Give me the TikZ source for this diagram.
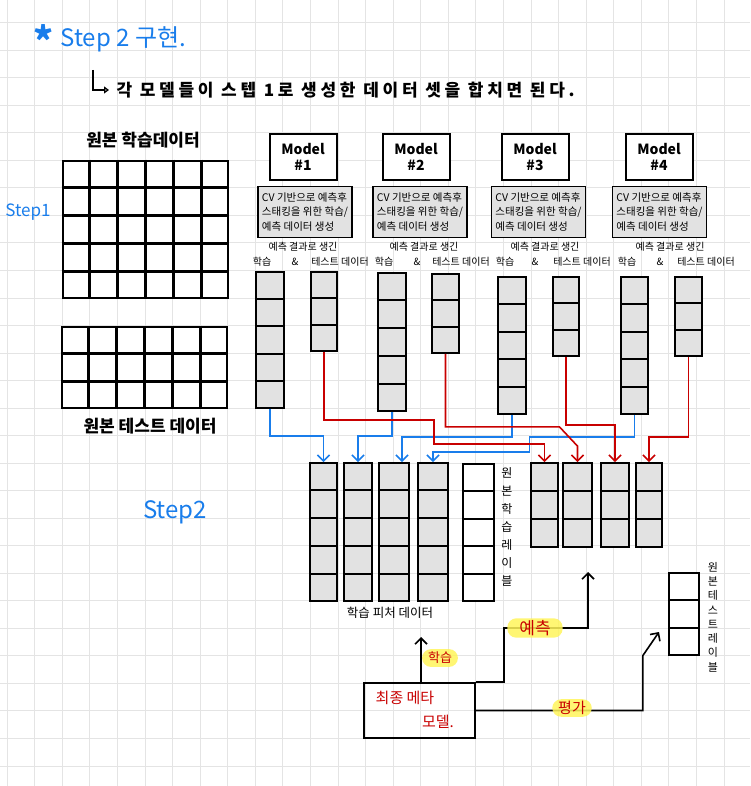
\documentclass[tikz,border=0pt]{standalone}
\usepackage{fontspec}
\setmainfont{Noto Sans CJK KR}
\newfontfamily\spaced{Noto Sans CJK KR}[LetterSpace=22]
\usetikzlibrary{arrows.meta,calc}

\definecolor{penblue}{RGB}{25,125,235}
\definecolor{penred}{RGB}{200,0,0}
\definecolor{paperline}{RGB}{228,228,228}
\definecolor{cellfill}{RGB}{226,226,226}
\definecolor{marker}{RGB}{255,244,90}

\tikzset{
  gridline/.style={draw=paperline, line width=1pt},
  cellline/.style={line width=1.8pt},
  gridcut/.style={line width=2.4pt},
  modelbox/.style={draw, line width=2pt, fill=white, minimum width=67pt, minimum height=46pt, inner sep=0pt, align=center, font=\fontsize{14}{16}\selectfont\bfseries},
  cvbox/.style={draw, line width=1.6pt, fill=cellfill, minimum width=94pt, minimum height=51pt, inner sep=2pt, align=left, font=\fontsize{10.5}{14.5}\selectfont},
  colbox/.style={draw, line width=1.8pt, fill=cellfill, inner sep=0pt},
  labelbox/.style={colbox, fill=white},
  datagrid/.style={draw, line width=2.6pt, fill=white, inner sep=0pt},
  hand/.style={font=\fontsize{10}{12}\selectfont},
  chevron/.style={-{Straight Barb[length=6pt,width=12pt]}, line width=1.6pt},
  bluepath/.style={chevron, draw=penblue},
  redpath/.style={chevron, draw=penred},
  blackpath/.style={chevron, draw=black},
  marked/.style={fill=marker, fill opacity=0.85, text opacity=1, rounded corners=9pt, text=penred, inner xsep=6pt, inner ysep=2pt},
}

% inner cell lines of a drawn box
\newcommand{\cellrows}[3][cellline]{%
  \pgfmathtruncatemacro{\cutn}{#3-1}
  \foreach \k in {1,...,\cutn}
    \draw[#1] ($(#2.north west)!{\k/#3}!(#2.south west)$) -- ($(#2.north east)!{\k/#3}!(#2.south east)$);
}
\newcommand{\cellcols}[3][cellline]{%
  \pgfmathtruncatemacro{\cutn}{#3-1}
  \foreach \k in {1,...,\cutn}
    \draw[#1] ($(#2.north west)!{\k/#3}!(#2.north east)$) -- ($(#2.south west)!{\k/#3}!(#2.south east)$);
}

\begin{document}
\begin{tikzpicture}[x=1pt,y=-1pt]
\useasboundingbox (0,0) rectangle (750,786);

% squared paper
\foreach \gx in {0,...,26} \draw[gridline] ({7.3+27.565*\gx},0) -- ++(0,786);
\foreach \gy in {0,...,27} \draw[gridline] (0,{22.7+27.53*\gy}) -- ++(750,0);

% heading
\node[penblue, anchor=west, font=\fontsize{24}{24}\selectfont] (title) at (30,40) {\raisebox{-9pt}{\fontsize{38}{38}\selectfont\textbf{*}}\hspace{7pt}Step 2 구현.};
\node[anchor=west, font=\fontsize{17}{17}\spaced\bfseries] (subtitle) at (113,90) {각 모델들이 스텝 1로 생성한 데이터 셋을 합치면 된다.};
\draw[line width=1.6pt, -{Triangle[open,length=5pt,width=7pt]}, shorten >=4pt] (93,70) |- (subtitle.west);

% step 1: original data
\node[penblue, font=\fontsize{17}{17}\selectfont] (step1) at (28,212) {Step1};
\node[font=\fontsize{17}{17}\selectfont\bfseries] (trtitle) at (143,140) {원본 학습데이터};
\node[datagrid, minimum width=165pt, minimum height=137pt] (trgrid) at (145.5,229.5) {};
\cellcols[gridcut]{trgrid}{6} \cellrows[gridcut]{trgrid}{5}
\node[datagrid, minimum width=165pt, minimum height=81pt] (tsgrid) at (144.5,367.5) {};
\cellcols[gridcut]{tsgrid}{6} \cellrows[gridcut]{tsgrid}{3}
\node[font=\fontsize{17}{17}\selectfont\bfseries] (tstitle) at (150,426) {원본 테스트 데이터};

% four base models
\foreach \i/\mx/\cx/\tx/\ax/\sx/\ty in {1/303/305/262/295/340/303, 2/416/420/384/417/461/424, 3/535/538.5/505/535/582/545, 4/659/659.5/627/660/706/670} {
  \node[modelbox] (model\i) at (\mx,157) {Model\\\#\i};
  \node[cvbox] (cv\i) at (\cx,212) {CV 기반으로 예측후\\스태킹을 위한 학습/\\예측 데이터 생성};
  \node[hand] (made\i) at (\ty,247) {예측 결과로 생긴};
  \node[hand] (trword\i) at (\tx,262) {학습};
  \node[hand] (andword\i) at (\ax,262) {\&};
  \node[hand] (tsword\i) at (\sx,262) {테스트 데이터};
}

% predictions of each model
\node[colbox, minimum width=28pt, minimum height=136pt] (tr1) at (270,340) {};
\node[colbox, minimum width=26pt, minimum height=79pt] (ts1) at (324,311.5) {};
\node[colbox, minimum width=28pt, minimum height=138pt] (tr2) at (392,342) {};
\node[colbox, minimum width=27pt, minimum height=79pt] (ts2) at (445.5,313.5) {};
\node[colbox, minimum width=28pt, minimum height=137pt] (tr3) at (512,345.5) {};
\node[colbox, minimum width=26pt, minimum height=79pt] (ts3) at (566,316.5) {};
\node[colbox, minimum width=27pt, minimum height=137pt] (tr4) at (634.5,345.5) {};
\node[colbox, minimum width=27pt, minimum height=79pt] (ts4) at (688.5,316.5) {};

% step 2: stacked data
\node[penblue, font=\fontsize{24}{24}\selectfont] (step2) at (175,512) {Step2};
\node[colbox, minimum width=27pt, minimum height=138pt] (f1) at (323.5,532) {};
\node[colbox, minimum width=28pt, minimum height=138pt] (f2) at (358,532) {};
\node[colbox, minimum width=30pt, minimum height=138pt] (f3) at (394,532) {};
\node[colbox, minimum width=30pt, minimum height=138pt] (f4) at (433,532) {};
\node[labelbox, minimum width=31pt, minimum height=137pt] (lb) at (478.5,532.5) {};
\node[colbox, minimum width=27pt, minimum height=84pt] (res1) at (544.5,505) {};
\node[colbox, minimum width=29pt, minimum height=84pt] (res2) at (577.5,505) {};
\node[colbox, minimum width=28pt, minimum height=84pt] (res3) at (615,505) {};
\node[colbox, minimum width=26pt, minimum height=84pt] (res4) at (649,505) {};
\node[labelbox, minimum width=30pt, minimum height=82pt] (tl) at (684,614) {};

\foreach \c/\n in {tr1/5, ts1/3, tr2/5, ts2/3, tr3/5, ts3/3, tr4/5, ts4/3, f1/5, f2/5, f3/5, f4/5, lb/5, res1/3, res2/3, res3/3, res4/3, tl/3} {
  \cellrows{\c}{\n}
}

\node[font=\fontsize{12.5}{12.5}\selectfont] (featname) at (390,613) {학습 피처 데이터};
\node[align=center, font=\fontsize{12}{18}\selectfont] (lbname) at (507,527) {원\\본\\학\\습\\레\\이\\블};
\node[align=center, font=\fontsize{11}{14.3}\selectfont] (tlname) at (713,617) {원\\본\\테\\스\\트\\레\\이\\블};

% connectors
\draw[bluepath] (tr1.south) -- ++(0,27) -| (f1.north);
\draw[bluepath] (tr2.south) -- ++(0,24) -| (f2.north);
\draw[bluepath] (tr3.south) -- ++(0,22) -| ([xshift=8pt]f3.north);
\draw[bluepath] (tr4.south) -- ++(0,22) -- ++(-105,0) -- ++(0,15) -| (f4.north);
\draw[redpath] (ts1.south) -- ++(0,68) -- ++(110,0) -- ++(0,24) -| (res1.north);
\draw[redpath] (ts2.south) -- ++(0,73) -- ++(114,0) -- ([yshift=16pt]res2.north) -- (res2.north);
\draw[redpath] (ts3.south) -- ++(0,68) -| (res3.north);
\draw[redpath] (ts4.south) -- ++(0,80) -| (res4.north);

% final meta model
\node[draw, line width=1.8pt, minimum width=111pt, minimum height=55pt] (meta) at (419.5,710.5) {};
\node[penred, font=\fontsize{15}{15}\selectfont] (metaline1) at (405,698) {최종 메타};
\node[penred, font=\fontsize{15}{15}\selectfont] (metaline2) at (438,722) {모델.};

\coordinate (learntip) at (421,637);
\coordinate (predtip) at (588,572);
\coordinate (evaltip) at (659,632);
\draw[blackpath] (meta.north -| learntip) -- (learntip);
\draw[blackpath] (meta.north east) -- ++(28,0) -- ++(0,-54) -| (predtip);
\draw[blackpath] (meta.east) -- ++(167,0) -- ++(0,-55) -- (evaltip);

\node[marked, font=\fontsize{13}{13}\selectfont, inner ysep=3pt] (learnmark) at (440,658) {학습};
\node[marked, font=\fontsize{17}{17}\selectfont, inner xsep=12pt] (predmark) at (535,628) {예측};
\node[marked, font=\fontsize{15}{15}\selectfont] (evalmark) at (572,708) {평가};

\end{tikzpicture}
\end{document}
